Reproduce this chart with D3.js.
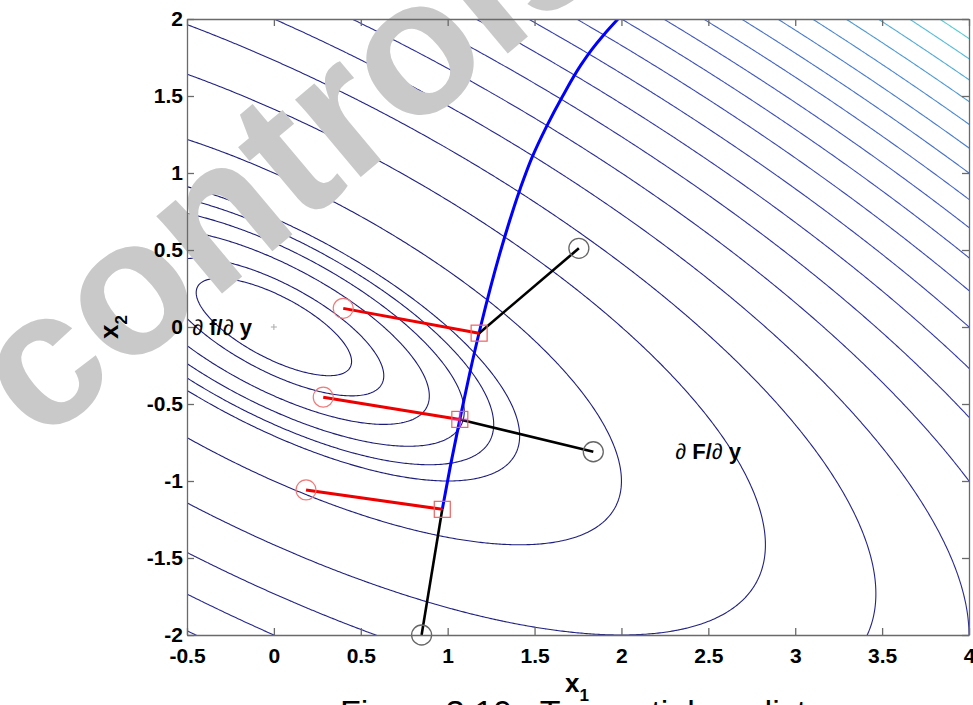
<!DOCTYPE html>
<html>
<head>
<meta charset="utf-8">
<script src="https://cdn.jsdelivr.net/npm/d3@7"></script>
<style>
body { margin: 0; background: #fff; }
svg { display: block; font-family: "Liberation Sans", Arial, sans-serif; }
</style>
</head>
<body>
<svg id="chart" width="973" height="705"></svg>
<script>
// axes
const x_domain = [-0.5, 4];
const y_domain = [-2, 2];
const x_ticks = [-0.5, 0, 0.5, 1, 1.5, 2, 2.5, 3, 3.5, 4];
const y_ticks = [-2, -1.5, -1, -0.5, 0, 0.5, 1, 1.5, 2];

// contoured function f = a*x1^2 + 2*b*x1*x2 + c*x2^2 (minimum at the origin)
const f_coef = [1, 1, 2];
const f_min = [0, 0];
const contour_levels = [0.1, 0.2, 0.4, 0.6, 0.8, 1, 2, 4, 6, 8, 10, 12, 14, 16, 18,
    20, 22, 24, 26, 28, 30, 32, 34, 36, 38, 40];
// colormap stops (level -> line colour), dark navy up to aquamarine
const color_stops = [0, 6, 14, 22, 30, 36, 40];
const color_range = ['#1c1c78', '#24248a', '#3338a8', '#4058c4', '#4a88d4', '#54bcdc', '#5ce0c8'];

// solution curve (blue)
const blue_curve = [[0.969, -1.184], [1.016, -0.9], [1.070, -0.6], [1.127, -0.3],
    [1.189, 0.0], [1.306, 0.5], [1.418, 0.9], [1.485, 1.1], [1.568, 1.3],
    [1.662, 1.5], [1.766, 1.7], [1.828, 1.8], [1.900, 1.9], [1.980, 2.0]];

// predictor steps: red = df/dy (circle -> square), black = dF/dy (square -> circle)
const red_start = [[0.399, 0.121], [0.284, -0.456], [0.185, -1.058]];
const squares = [[1.181, -0.040], [1.070, -0.600], [0.969, -1.184]];
const black_end = [[1.755, 0.511], [1.838, -0.810], [0.850, -2.0]];
const magenta_mark = [1.070, -0.600];

const labels = [
    {x: -0.47, y: -0.05, parts: ['\u2202', ' f/', '\u2202', ' y']},
    {x: 2.31, y: -0.86, parts: ['\u2202', ' F/', '\u2202', ' y']}
];

const caption = 'Figure 3.10:  Tangential predictor';
const watermark = 'controls';

const svg = d3.select('#chart');
const plot_left = 187, plot_right = 969, plot_top = 19, plot_bottom = 635;

const x_scale = d3.scaleLinear().domain(x_domain).range([plot_left, plot_right]);
const y_scale = d3.scaleLinear().domain(y_domain).range([plot_bottom, plot_top]);

svg.append('rect').attr('width', 973).attr('height', 705).attr('fill', '#fff');

svg.append('clipPath').attr('id', 'plot-clip')
    .append('rect')
    .attr('x', plot_left).attr('y', plot_top)
    .attr('width', plot_right - plot_left).attr('height', plot_bottom - plot_top);

// sample f on a grid a little larger than the view and contour it
const grid_step = 0.01, grid_x0 = -0.6, grid_y0 = -2.1;
const nx = 471, ny = 421;
const [fa, fb, fc] = f_coef;
const grid = new Float64Array(nx * ny);
for (let j = 0; j < ny; j++) {
    for (let i = 0; i < nx; i++) {
        const u = grid_x0 + i * grid_step - f_min[0];
        const v = grid_y0 + j * grid_step - f_min[1];
        grid[j * nx + i] = fa * u * u + 2 * fb * u * v + fc * v * v;
    }
}
const contours = d3.contours().size([nx, ny]).thresholds(contour_levels)(grid);

const grid_proj = d3.geoTransform({
    point(px, py) {
        this.stream.point(x_scale(grid_x0 + (px - 0.5) * grid_step),
            y_scale(grid_y0 + (py - 0.5) * grid_step));
    }
});
const contour_path = d3.geoPath(grid_proj);

const level_color = d3.scaleLinear().domain(color_stops).range(color_range);

const plot = svg.append('g').attr('clip-path', 'url(#plot-clip)');
plot.selectAll('path.contour')
    .data(contours)
    .join('path')
    .attr('class', 'contour')
    .attr('d', contour_path)
    .attr('fill', 'none')
    .attr('stroke', d => level_color(d.value))
    .attr('stroke-width', 1.1);

// watermark
svg.append('text')
    .attr('transform', 'translate(40,446) rotate(-40)')
    .attr('font-size', 192)
    .attr('font-weight', 'bold')
    .attr('fill', '#c9c9c9')
    .text(watermark);

const line = d3.line().x(d => x_scale(d[0])).y(d => y_scale(d[1]));

plot.append('path')
    .datum(blue_curve)
    .attr('d', line.curve(d3.curveMonotoneY))
    .attr('fill', 'none')
    .attr('stroke', '#0000ff')
    .attr('stroke-width', 3);

plot.selectAll('line.black')
    .data(squares.map((s, i) => [s, black_end[i]]))
    .join('line')
    .attr('class', 'black')
    .attr('x1', d => x_scale(d[0][0])).attr('y1', d => y_scale(d[0][1]))
    .attr('x2', d => x_scale(d[1][0])).attr('y2', d => y_scale(d[1][1]))
    .attr('stroke', '#000').attr('stroke-width', 2.6);

plot.selectAll('line.red')
    .data(red_start.map((s, i) => [s, squares[i]]))
    .join('line')
    .attr('class', 'red')
    .attr('x1', d => x_scale(d[0][0])).attr('y1', d => y_scale(d[0][1]))
    .attr('x2', d => x_scale(d[1][0])).attr('y2', d => y_scale(d[1][1]))
    .attr('stroke', '#ee0000').attr('stroke-width', 3);

svg.selectAll('circle.red')
    .data(red_start)
    .join('circle')
    .attr('class', 'red')
    .attr('cx', d => x_scale(d[0])).attr('cy', d => y_scale(d[1]))
    .attr('r', 10)
    .attr('fill', 'none').attr('stroke', '#f07a7a').attr('stroke-width', 1.2);

svg.selectAll('circle.black')
    .data(black_end)
    .join('circle')
    .attr('class', 'black')
    .attr('cx', d => x_scale(d[0])).attr('cy', d => y_scale(d[1]))
    .attr('r', 10)
    .attr('fill', 'none').attr('stroke', '#666').attr('stroke-width', 1.3);

svg.selectAll('rect.square')
    .data(squares)
    .join('rect')
    .attr('class', 'square')
    .attr('x', d => x_scale(d[0]) - 8).attr('y', d => y_scale(d[1]) - 8)
    .attr('width', 16).attr('height', 16)
    .attr('fill', 'none').attr('stroke', '#f06060').attr('stroke-width', 1.2);

// magenta cross on the middle square
const mx = x_scale(magenta_mark[0]), my = y_scale(magenta_mark[1]);
svg.append('path')
    .attr('d', `M${mx - 8},${my}H${mx + 8}M${mx},${my - 8}V${my + 8}`)
    .attr('stroke', '#e040e0').attr('stroke-width', 2).attr('opacity', 0.6);

// minimum marker
const px0 = x_scale(f_min[0]), py0 = y_scale(f_min[1]);
svg.append('path')
    .attr('d', `M${px0 - 3},${py0}H${px0 + 3}M${px0},${py0 - 3}V${py0 + 3}`)
    .attr('stroke', '#aaa').attr('stroke-width', 1);

// axes, MATLAB style: box with inward ticks
const axis_color = '#6a6a6a';
const tick_fmt = d => String(d);
const x_axis = svg.append('g')
    .attr('transform', `translate(0,${plot_bottom})`)
    .call(d3.axisBottom(x_scale).tickValues(x_ticks).tickSizeInner(-7).tickSizeOuter(0)
        .tickPadding(13).tickFormat(tick_fmt));
const y_axis = svg.append('g')
    .attr('transform', `translate(${plot_left},0)`)
    .call(d3.axisLeft(y_scale).tickValues(y_ticks).tickSizeInner(-7).tickSizeOuter(0)
        .tickPadding(4).tickFormat(tick_fmt));
const x_top = svg.append('g')
    .attr('transform', `translate(0,${plot_top})`)
    .call(d3.axisTop(x_scale).tickValues(x_ticks).tickSizeInner(-7).tickSizeOuter(0).tickFormat(''));
const y_right = svg.append('g')
    .attr('transform', `translate(${plot_right},0)`)
    .call(d3.axisRight(y_scale).tickValues(y_ticks).tickSizeInner(-7).tickSizeOuter(0).tickFormat(''));

[x_axis, y_axis, x_top, y_right].forEach(a => {
    a.selectAll('.domain').attr('stroke', axis_color).attr('stroke-width', 1.3);
    a.selectAll('.tick line').attr('stroke', axis_color).attr('stroke-width', 1.3);
    a.selectAll('.tick text')
        .attr('fill', '#000')
        .attr('font-size', 21)
        .attr('font-weight', 'bold')
        .attr('font-family', '"Liberation Sans", Arial, sans-serif');
});

// axis labels
const xl = svg.append('text')
    .attr('x', 577).attr('y', 692)
    .attr('text-anchor', 'middle')
    .attr('font-size', 26).attr('font-weight', 'bold');
xl.append('tspan').text('x');
xl.append('tspan').attr('font-size', 17).attr('dy', 9).text('1');

const yl = svg.append('text')
    .attr('transform', `translate(118,${(plot_top + plot_bottom) / 2}) rotate(-90)`)
    .attr('text-anchor', 'middle')
    .attr('font-size', 26).attr('font-weight', 'bold');
yl.append('tspan').text('x');
yl.append('tspan').attr('font-size', 17).attr('dy', 9).text('2');

// annotations
labels.forEach(l => {
    const t = svg.append('text')
        .attr('x', x_scale(l.x)).attr('y', y_scale(l.y))
        .attr('font-size', 22).attr('fill', '#000');
    l.parts.forEach(p => t.append('tspan')
        .attr('font-weight', p === '\u2202' ? 'normal' : 'bold')
        .text(p));
});

// caption (cut off by the page edge in the original)
svg.append('text')
    .attr('x', 340).attr('y', 724)
    .attr('font-size', 34)
    .attr('xml:space', 'preserve')
    .style('white-space', 'pre')
    .text(caption);
</script>
</body>
</html>
